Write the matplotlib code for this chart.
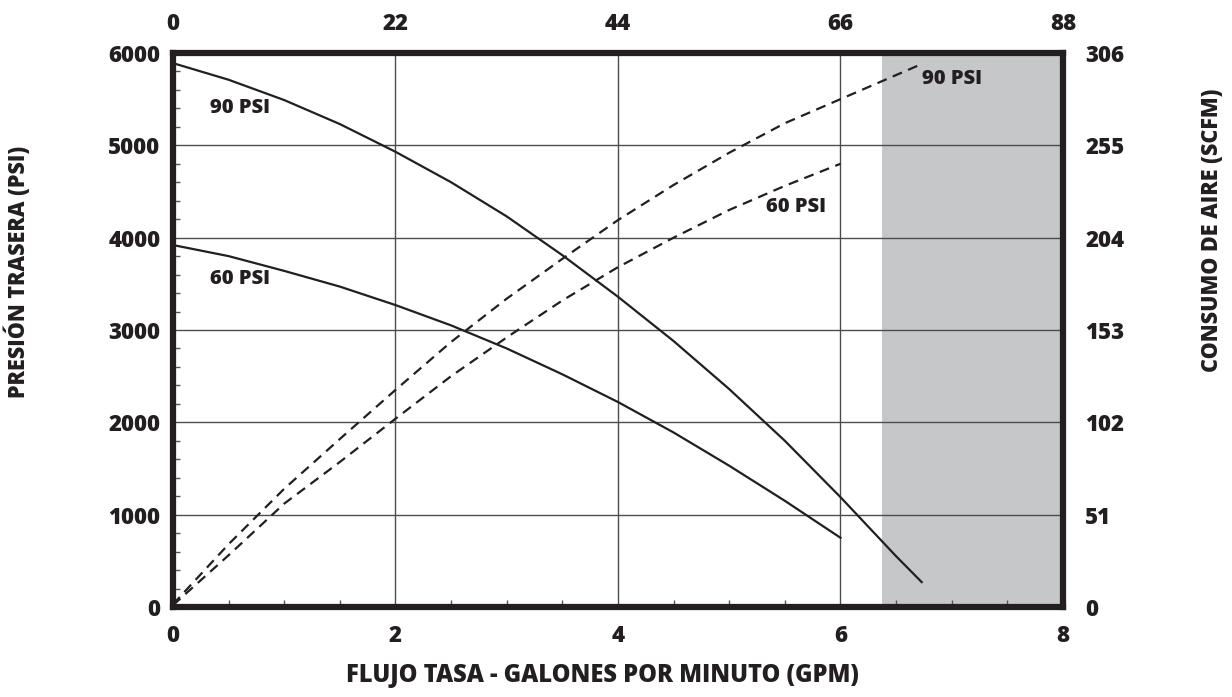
import numpy as np
import matplotlib
matplotlib.use("Agg")
import matplotlib.pyplot as plt
from matplotlib.ticker import MultipleLocator

plt.rcParams['font.family'] = ['Open Sans', 'DejaVu Sans']
plt.rcParams['font.weight'] = 'heavy'

INK = '#231f20'
W = 'heavy'

# flow rate (GPM) vs back pressure (PSI)
gpm_90 = [0, 0.5, 1, 1.5, 2, 2.5, 3, 3.5, 4, 4.5, 5, 5.5, 6, 6.5, 6.73]
psi_90 = [5890, 5710, 5490, 5230, 4930, 4600, 4230, 3810, 3360, 2880, 2360, 1800, 1190, 550, 270]
gpm_60 = [0, 0.5, 1, 1.5, 2, 2.5, 3, 3.5, 4, 4.5, 5, 5.5, 6]
psi_60 = [3920, 3800, 3640, 3470, 3270, 3050, 2800, 2520, 2220, 1890, 1530, 1150, 750]

# air consumption (SCFM), same flow points
scfm_90 = [1.5, 34.7, 65.3, 92.8, 119.9, 146.4, 170.3, 192.3, 213.7, 233.1, 250.9, 267.2, 280.5, 293.8, 299.9]
scfm_60 = [1.0, 28.6, 57.1, 80.1, 104.0, 127.5, 148.9, 169.3, 187.7, 204.0, 219.3, 232.6, 244.8]

x_ticks = [0, 2, 4, 6, 8]
top_ticks = [0, 22, 44, 66, 88]
left_ticks = [0, 1000, 2000, 3000, 4000, 5000, 6000]
right_ticks = [0, 51, 102, 153, 204, 255, 306]
shade_start = 6.37

fig = plt.figure(figsize=(12.32, 6.97), dpi=100)
ax = fig.add_axes([0.1404, 0.1291, 0.7224, 0.7949])

ax.set_xlim(0, 8)
ax.set_ylim(0, 6000)
ax.axvspan(shade_start, 8, color='#c6c7c9', zorder=0, lw=0)
ax.grid(True, which='major', color='#4d4d4f', lw=1.0, zorder=1)
ax.set_axisbelow(False)

scale = 6000 / 306.0
ax.plot(gpm_90, psi_90, color=INK, lw=1.6, zorder=3)
ax.plot(gpm_60, psi_60, color=INK, lw=1.6, zorder=3)
ax.plot(gpm_90, np.array(scfm_90) * scale, color=INK, lw=1.6, ls=(0, (4.5, 3)), zorder=3)
ax.plot(gpm_60, np.array(scfm_60) * scale, color=INK, lw=1.6, ls=(0, (4.5, 3)), zorder=3)

lab = dict(fontsize=14.5, fontweight=W, color=INK, zorder=4)
ax.text(0.33, 5400, '90 PSI', va='center', ha='left', **lab)
ax.text(0.33, 3550, '60 PSI', va='center', ha='left', **lab)
ax.text(6.73, 5720, '90 PSI', va='center', ha='left', **lab)
ax.text(5.33, 4330, '60 PSI', va='center', ha='left', **lab)

ax.set_xticks(x_ticks)
ax.set_yticks(left_ticks)
ax.xaxis.set_minor_locator(MultipleLocator(0.5))
ax.yaxis.set_minor_locator(MultipleLocator(200))
ax.tick_params(which='major', length=0, labelsize=16, colors=INK)
ax.tick_params(axis='x', which='major', pad=12)
ax.tick_params(axis='y', which='major', pad=9)
ax.tick_params(which='minor', direction='in', length=5, width=1, color='#555555')
ax.tick_params(axis='y', which='minor', left=True, right=False)
ax.tick_params(axis='x', which='minor', bottom=True, top=False)
for t in ax.get_xticklabels() + ax.get_yticklabels():
    t.set_fontweight(W)

for s in ax.spines.values():
    s.set_linewidth(4.5)
    s.set_color(INK)
    s.set_zorder(5)

top = ax.secondary_xaxis('top')
top.set_xticks(x_ticks)
top.set_xticklabels([str(v) for v in top_ticks])
top.tick_params(length=0, labelsize=16, pad=12, colors=INK)
for t in top.get_xticklabels():
    t.set_fontweight(W)

right = ax.twinx()
right.set_ylim(0, 306)
right.set_yticks(right_ticks)
right.tick_params(length=0, labelsize=16, pad=16, colors=INK)
for t in right.get_yticklabels():
    t.set_fontweight(W)
for s in right.spines.values():
    s.set_visible(False)

ax.set_xlabel('FLUJO TASA - GALONES POR MINUTO (GPM)', fontsize=17, fontweight=W,
              color=INK, va='center')
ax.xaxis.set_label_coords(0.482, -0.1245)
ax.set_ylabel('PRESIÓN TRASERA (PSI)', fontsize=15.5, fontweight=W, color=INK, va='center')
ax.yaxis.set_label_coords(-0.174, 0.605)
right.set_ylabel('CONSUMO DE AIRE (SCFM)', fontsize=15.5, fontweight=W, color=INK,
                 rotation=90, va='center')
right.yaxis.set_label_coords(1.167, 0.68)

fig.savefig('out.png', dpi=100)
